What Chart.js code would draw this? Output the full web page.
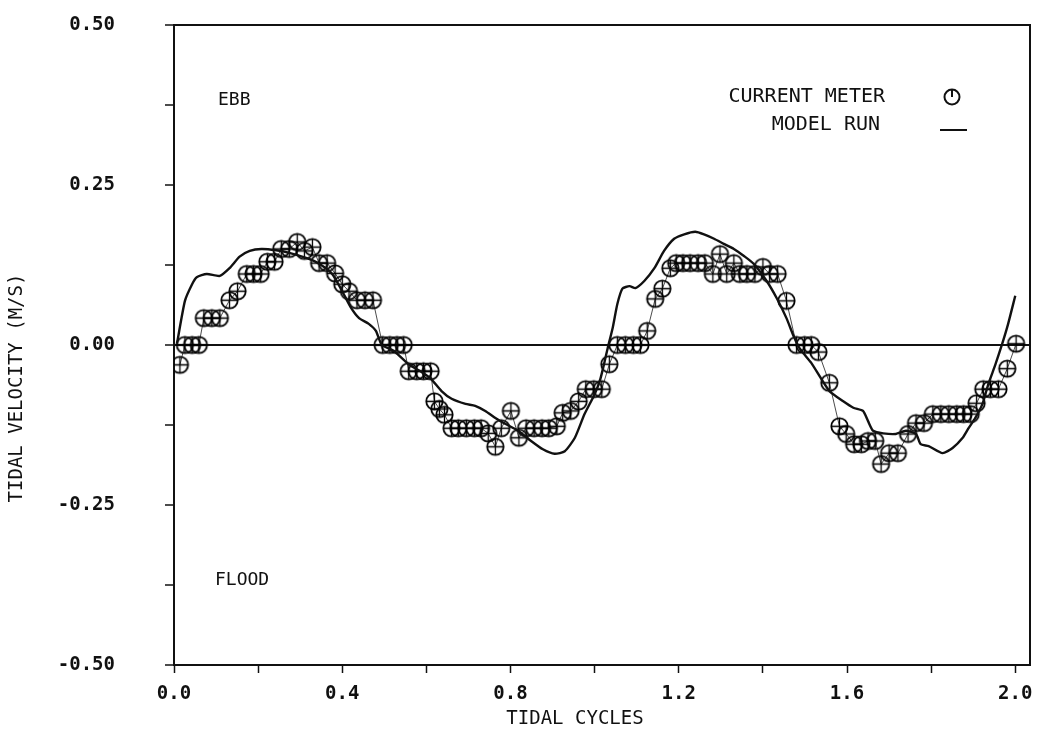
<!DOCTYPE html>
<html lang="en">
<head>
<meta charset="UTF-8">
<title>Tidal velocity - current meter vs model run</title>
<script src="https://cdn.jsdelivr.net/npm/chart.js@4.4.0/dist/chart.umd.min.js"></script>
<style>
    html, body { margin: 0; padding: 0; background: #fff; }
    .wrap { width: 1040px; height: 736px; position: relative; }
</style>
</head>
<body>
<div class="wrap"><canvas id="tideChart"></canvas></div>
<script>
// current meter readings: tidal cycles / velocity (m/s)
const meterCycles = [0.014,0.026,0.043,0.059,0.071,0.090,0.109,0.132,0.151,0.173,
    0.189,0.206,0.222,0.239,0.255,0.274,0.293,0.310,0.329,0.345,
    0.364,0.383,0.400,0.416,0.435,0.454,0.473,0.496,0.513,0.530,
    0.546,0.558,0.577,0.593,0.610,0.619,0.631,0.643,0.660,0.676,
    0.695,0.714,0.730,0.747,0.764,0.778,0.801,0.820,0.837,0.856,
    0.875,0.891,0.910,0.924,0.943,0.962,0.979,0.998,1.017,1.035,
    1.054,1.073,1.092,1.109,1.125,1.144,1.161,1.180,1.194,1.210,
    1.227,1.246,1.262,1.281,1.298,1.314,1.331,1.345,1.362,1.381,
    1.400,1.416,1.435,1.456,1.480,1.499,1.515,1.532,1.558,1.582,
    1.598,1.617,1.634,1.650,1.667,1.681,1.700,1.721,1.745,1.764,
    1.783,1.804,1.823,1.842,1.861,1.877,1.894,1.908,1.924,1.941,
    1.960,1.981,2.002];
const meterVelocity = [-0.031,0,0,0,0.042,0.042,0.042,0.070,0.084,0.111,
    0.111,0.111,0.130,0.130,0.150,0.150,0.161,0.147,0.153,0.128,
    0.128,0.112,0.095,0.084,0.070,0.070,0.070,0,0,0,
    0,-0.041,-0.041,-0.041,-0.041,-0.088,-0.100,-0.109,-0.130,-0.130,
    -0.130,-0.130,-0.130,-0.138,-0.159,-0.130,-0.103,-0.145,-0.130,-0.130,
    -0.130,-0.130,-0.127,-0.106,-0.103,-0.088,-0.069,-0.069,-0.069,-0.030,
    0,0,0,0,0.022,0.072,0.088,0.120,0.128,0.128,
    0.128,0.128,0.128,0.111,0.142,0.111,0.128,0.111,0.111,0.111,
    0.122,0.111,0.111,0.069,0,0,0,-0.011,-0.059,-0.127,
    -0.139,-0.155,-0.155,-0.150,-0.150,-0.186,-0.169,-0.169,-0.139,-0.122,
    -0.122,-0.108,-0.108,-0.108,-0.108,-0.108,-0.108,-0.091,-0.069,-0.069,
    -0.069,-0.037,0.002];

// model run
const modelCycles = [0.007,0.026,0.043,0.054,0.078,0.109,0.132,0.156,0.180,0.208,
    0.243,0.274,0.314,0.345,0.376,0.400,0.421,0.440,0.463,0.480,
    0.494,0.522,0.558,0.593,0.610,0.636,0.660,0.693,0.716,0.740,
    0.764,0.787,0.818,0.849,0.877,0.905,0.929,0.953,0.976,1.000,
    1.014,1.024,1.031,1.043,1.054,1.066,1.083,1.097,1.118,1.142,
    1.165,1.189,1.213,1.239,1.260,1.284,1.307,1.331,1.355,1.378,
    1.409,1.433,1.456,1.473,1.487,1.515,1.558,1.591,1.615,1.638,
    1.650,1.662,1.686,1.716,1.740,1.764,1.775,1.794,1.827,1.851,
    1.875,1.889,1.905,1.922,1.936,1.953,1.969,1.983,2.000];
const modelVelocity = [0.002,0.069,0.095,0.106,0.111,0.108,0.120,0.138,0.147,0.150,
    0.148,0.144,0.136,0.127,0.111,0.084,0.058,0.042,0.033,0.022,
    0.000,-0.009,-0.030,-0.044,-0.052,-0.072,-0.084,-0.092,-0.095,-0.103,
    -0.114,-0.123,-0.134,-0.150,-0.163,-0.170,-0.166,-0.145,-0.108,-0.077,
    -0.052,-0.025,-0.005,0.027,0.064,0.088,0.092,0.089,0.100,0.120,
    0.147,0.166,0.173,0.177,0.173,0.166,0.158,0.150,0.139,0.127,
    0.100,0.073,0.042,0.014,-0.005,-0.028,-0.072,-0.088,-0.098,-0.103,
    -0.119,-0.134,-0.138,-0.139,-0.134,-0.139,-0.155,-0.158,-0.169,-0.161,
    -0.145,-0.130,-0.114,-0.092,-0.061,-0.030,0.002,0.033,0.077];

const xTickValues = [0,0.2,0.4,0.6,0.8,1.0,1.2,1.4,1.6,1.8,2.0];
const xTickLabels = ['0.0','','0.4','','0.8','','1.2','','1.6','','2.0'];
const yTickValues = [-0.5,-0.375,-0.25,-0.125,0,0.125,0.25,0.375,0.5];
const yTickLabels = ['-0.50','','-0.25','','0.00','','0.25','','0.50'];

const plotFont = "'DejaVu Sans Mono', monospace";

// circle with a cross, like the plotter's marker
function meterMark() {
    const c = document.createElement('canvas');
    c.width = c.height = 21;
    const g = c.getContext('2d');
    g.strokeStyle = '#000';
    g.lineWidth = 1.8;
    g.beginPath();
    g.arc(10.5, 10.5, 8.2, 0, Math.PI * 2);
    g.stroke();
    g.lineWidth = 1.3;
    g.beginPath();
    g.moveTo(10.5, 3); g.lineTo(10.5, 18);
    g.moveTo(3, 10.5); g.lineTo(18, 10.5);
    g.stroke();
    return c;
}

// frame, legend, notes and axis titles
const decorations = {
    id: 'decorations',
    afterDraw(chart) {
        const { ctx, chartArea: a } = chart;
        ctx.save();
        ctx.strokeStyle = '#111';
        ctx.lineWidth = 2;
        ctx.beginPath();
        ctx.moveTo(a.left, a.top);
        ctx.lineTo(a.right, a.top);
        ctx.lineTo(a.right, a.bottom);
        ctx.stroke();

        ctx.fillStyle = '#111';
        ctx.font = '18px ' + plotFont;
        ctx.textBaseline = 'middle';
        ctx.textAlign = 'left';
        ctx.fillText('EBB', a.left + 44, a.top + 75);
        ctx.fillText('FLOOD', a.left + 41, a.top + 555);

        ctx.font = '20px ' + plotFont;
        ctx.textAlign = 'right';
        ctx.fillText('CURRENT METER', a.right - 145, a.top + 72);
        ctx.fillText('MODEL RUN', a.right - 150, a.top + 100);

        // legend symbols
        const cx = a.right - 78, cy = a.top + 72;
        ctx.lineWidth = 2;
        ctx.beginPath();
        ctx.arc(cx, cy, 7.5, 0, Math.PI * 2);
        ctx.moveTo(cx, cy - 7.5);
        ctx.lineTo(cx, cy);
        ctx.stroke();
        ctx.beginPath();
        ctx.moveTo(a.right - 90, a.top + 105);
        ctx.lineTo(a.right - 63, a.top + 105);
        ctx.stroke();

        // axis titles
        ctx.font = '19px ' + plotFont;
        ctx.textAlign = 'center';
        ctx.fillText('TIDAL CYCLES', a.left + 401, a.bottom + 54);
        ctx.translate(17, a.top + 363);
        ctx.rotate(-Math.PI / 2);
        ctx.fillText('TIDAL VELOCITY (M/S)', 0, 0);
        ctx.restore();
    }
};

new Chart(document.getElementById('tideChart'), {
    type: 'scatter',
    data: {
        datasets: [
            {
                label: 'CURRENT METER',
                data: meterCycles.map((x, i) => ({ x: x, y: meterVelocity[i] })),
                showLine: true,
                borderColor: 'rgba(30,30,30,0.8)',
                borderWidth: 1,
                pointStyle: meterMark(),
                pointRadius: 9,
                order: 2
            },
            {
                label: 'MODEL RUN',
                data: modelCycles.map((x, i) => ({ x: x, y: modelVelocity[i] })),
                showLine: true,
                borderColor: '#111',
                borderWidth: 2.4,
                pointRadius: 0,
                tension: 0.2,
                order: 1
            }
        ]
    },
    options: {
        responsive: true,
        maintainAspectRatio: false,
        animation: false,
        layout: { padding: { top: 25, right: 5, left: 0, bottom: 0 } },
        plugins: {
            legend: { display: false },
            tooltip: { enabled: false }
        },
        scales: {
            x: {
                type: 'linear',
                min: 0,
                max: 2.035,
                afterBuildTicks: s => { s.ticks = xTickValues.map(v => ({ value: v })); },
                afterFit: s => { s.height = 71; s.paddingLeft = 0; s.paddingRight = 0; },
                ticks: {
                    callback: (v, i) => xTickLabels[i],
                    autoSkip: false,
                    maxRotation: 0,
                    padding: 10,
                    color: '#111',
                    font: { family: plotFont, size: 19, weight: 'bold' }
                },
                grid: { drawOnChartArea: false, tickLength: 8, tickColor: '#111', tickWidth: 1.5 },
                border: { color: '#111', width: 2 }
            },
            y: {
                min: -0.5,
                max: 0.5,
                afterBuildTicks: s => { s.ticks = yTickValues.map(v => ({ value: v })); },
                afterFit: s => { s.width = 174; s.paddingTop = 0; s.paddingBottom = 0; },
                ticks: {
                    callback: (v, i) => yTickLabels[i],
                    autoSkip: false,
                    padding: 50,
                    color: '#111',
                    font: { family: plotFont, size: 19, weight: 'bold' }
                },
                grid: {
                    color: c => (c.tick && c.tick.value === 0) ? '#111' : 'rgba(0,0,0,0)',
                    lineWidth: 2,
                    tickLength: 9,
                    tickColor: '#111',
                    tickWidth: 1.5
                },
                border: { color: '#111', width: 2 }
            }
        }
    },
    plugins: [decorations]
});
</script>
</body>
</html>
